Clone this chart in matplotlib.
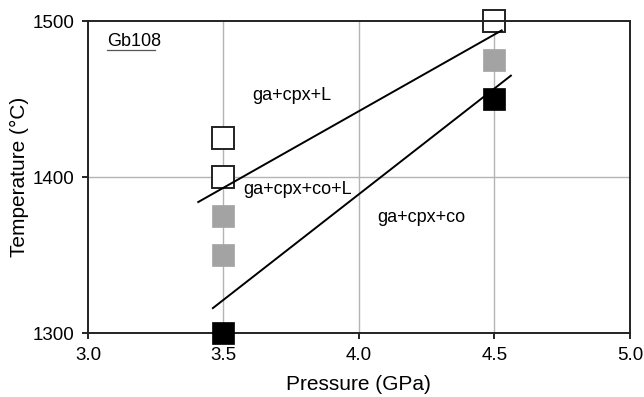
import matplotlib.pyplot as plt

plt.rcParams['font.family'] = ['Liberation Sans', 'DejaVu Sans']

# experiments: pressure (GPa), temperature (C)
open_p = [3.5, 3.5, 4.5]
open_t = [1425, 1400, 1500]
gray_p = [3.5, 3.5, 4.5]
gray_t = [1375, 1350, 1475]
black_p = [3.5, 4.5]
black_t = [1300, 1450]

# phase boundaries
upper_p = [3.407, 4.527]
upper_t = [1384, 1494]
lower_p = [3.461, 4.561]
lower_t = [1316, 1465]

xticks = [3.0, 3.5, 4.0, 4.5, 5.0]
yticks = [1300, 1400, 1500]

fig = plt.figure(figsize=(6.44, 3.97), dpi=100)
ax = fig.add_axes([0.1366, 0.161, 0.8414, 0.786])

ax.set_xlim(3.0, 5.0)
ax.set_ylim(1300, 1500)
ax.set_xticks(xticks)
ax.set_xticklabels([f'{v:.1f}' for v in xticks])
ax.set_yticks(yticks)

for v in [3.5, 4.0, 4.5]:
    ax.axvline(v, color='#b4b4b4', lw=1, zorder=1)
ax.axhline(1400, color='#b4b4b4', lw=1, zorder=1)

ax.plot(upper_p, upper_t, color='black', lw=1.4, zorder=3)
ax.plot(lower_p, lower_t, color='black', lw=1.4, zorder=3)

ms = 16
ax.plot(open_p, open_t, 's', ms=ms, mfc='white', mec='#222222', mew=1.4,
        ls='none', clip_on=False, zorder=2)
ax.plot(gray_p, gray_t, 's', ms=ms, mfc='#a3a3a3', mec='#a3a3a3', mew=0.5,
        ls='none', clip_on=False, zorder=2)
ax.plot(black_p, black_t, 's', ms=ms, mfc='black', mec='black', mew=0.5,
        ls='none', clip_on=False, zorder=4)

ax.text(3.07, 1487, 'Gb108', fontsize=13, va='center')
ax.plot([3.07, 3.248], [1481.5, 1481.5], color='#555555', lw=0.9)
ax.text(3.605, 1452, 'ga+cpx+L', fontsize=13, va='center')
ax.text(3.572, 1392, 'ga+cpx+co+L', fontsize=13, va='center')
ax.text(4.066, 1374, 'ga+cpx+co', fontsize=13, va='center')

ax.set_xlabel('Pressure (GPa)', fontsize=15, labelpad=8)
ax.set_ylabel('Temperature (°C)', fontsize=15, labelpad=2)

for s in ax.spines.values():
    s.set_linewidth(1.4)
    s.set_color('#222222')
ax.tick_params(direction='out', length=4, width=1.2, labelsize=13.5, pad=6)

fig.savefig('out.png', dpi=100)
